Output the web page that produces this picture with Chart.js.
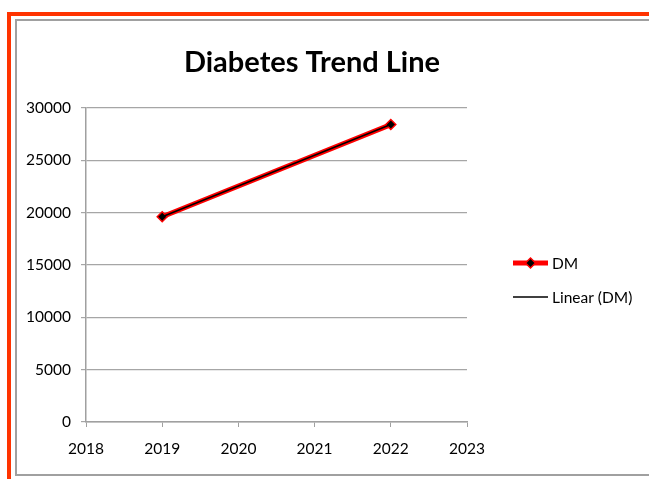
<!DOCTYPE html>
<html>
<head>
<meta charset="utf-8">
<script src="https://cdn.jsdelivr.net/npm/chart.js@4.4.1/dist/chart.umd.min.js"></script>
<style>
  html, body { margin: 0; padding: 0; background: #fff; overflow: hidden; }
  .frame { position: absolute; left: 7px; top: 12px; width: 700px; height: 500px;
           border-top: 4px solid #ff3300; border-left: 4px solid #ff3300; }
  .box { position: absolute; left: 15px; top: 19px; width: 700px; height: 453px;
         border: 2px solid #a0a0a0; }
  #chartWrap { position: absolute; left: 0; top: 0; width: 649px; height: 479px; }
</style>
</head>
<body>
<div class="frame"></div>
<div class="box"></div>
<div id="chartWrap"><canvas id="trendChart" width="649" height="479"></canvas></div>
<script>
// data
const years = [2019, 2022];
const dmValues = [19600, 28400];
const trendYears = [2019, 2022];
const trendValues = [19600, 28400];
const xTicks = [2018, 2019, 2020, 2021, 2022, 2023];
const yTicks = [0, 5000, 10000, 15000, 20000, 25000, 30000];

const fontFam = 'Lato, "Open Sans", sans-serif';

// legend drawn beside the plot, styled from each dataset
const sideLegend = {
  id: 'sideLegend',
  afterDraw(chart) {
    const c = chart.ctx;
    const rows = [263, 297];
    chart.data.datasets.forEach((ds, i) => {
      const y = rows[i];
      c.save();
      c.strokeStyle = ds.borderColor;
      c.lineWidth = ds.borderWidth;
      c.beginPath();
      c.moveTo(513, y);
      c.lineTo(548, y);
      c.stroke();
      if (ds.pointRadius > 0) {
        const r = ds.pointRadius;
        c.fillStyle = ds.pointBackgroundColor;
        c.strokeStyle = ds.pointBorderColor;
        c.lineWidth = ds.pointBorderWidth;
        c.beginPath();
        c.moveTo(530.5, y - r); c.lineTo(530.5 + r, y);
        c.lineTo(530.5, y + r); c.lineTo(530.5 - r, y);
        c.closePath(); c.fill(); c.stroke();
      }
      c.fillStyle = '#000';
      c.font = '15.5px ' + fontFam;
      c.textBaseline = 'middle';
      c.fillText(ds.label, 552, y + 1);
      c.restore();
    });
  }
};

const ctx = document.getElementById('trendChart').getContext('2d');

const trendChart = new Chart(ctx, {
  type: 'line',
  data: {
    datasets: [{
      label: 'DM',
      data: years.map((yr, i) => ({ x: yr, y: dmValues[i] })),
      borderColor: '#ff0000',
      borderWidth: 5,
      pointStyle: 'rectRot',
      pointRadius: 5,
      pointBackgroundColor: '#000',
      pointBorderColor: '#ff0000',
      pointBorderWidth: 1.5,
      order: 1
    }, {
      label: 'Linear (DM)',
      data: trendYears.map((yr, i) => ({ x: yr, y: trendValues[i] })),
      borderColor: '#000',
      borderWidth: 1.5,
      pointRadius: 0,
      order: 0
    }]
  },
  options: {
    responsive: false,
    animation: false,
    layout: { padding: { left: 0, right: 25, top: 0, bottom: 0 } },
    plugins: {
      legend: { display: false },
      tooltip: { enabled: false },
      title: {
        display: true,
        text: 'Diabetes Trend Line',
        color: '#000',
        font: { family: fontFam, size: 29, weight: 'bold' },
        padding: { top: 45, bottom: 28 }
      }
    },
    scales: {
      x: {
        type: 'linear',
        min: 2018,
        max: 2023,
        afterBuildTicks: (s) => { s.ticks = xTicks.map(v => ({ value: v })); },
        afterFit: (s) => { s.height = 57; },
        grid: { display: true, drawOnChartArea: false, color: '#a0a0a0', tickLength: 5 },
        border: { color: '#a0a0a0', width: 1.5 },
        ticks: { color: '#000', padding: 13, maxRotation: 0,
                 font: { family: fontFam, size: 15.5 }, callback: v => String(v) }
      },
      y: {
        min: 0,
        max: 30000,
        afterBuildTicks: (s) => { s.ticks = yTicks.map(v => ({ value: v })); },
        afterFit: (s) => { s.width = 86; },
        grid: { color: '#a6a6a6', lineWidth: 1.2, tickLength: 5 },
        border: { color: '#a0a0a0', width: 1.5 },
        ticks: { color: '#000', padding: 10,
                 font: { family: fontFam, size: 15.5 }, callback: v => String(v) }
      },
      // empty right-hand scale that reserves room for the legend
      side: {
        position: 'right',
        display: true,
        afterFit: (s) => { s.width = 157; },
        grid: { display: false, drawTicks: false },
        border: { display: false },
        ticks: { display: false }
      }
    }
  },
  plugins: [sideLegend]
});
</script>
</body>
</html>
